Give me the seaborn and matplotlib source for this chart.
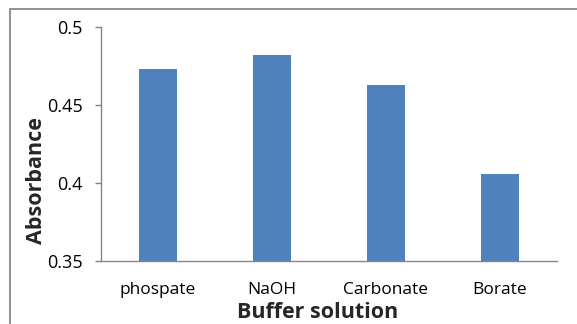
import matplotlib
matplotlib.use("Agg")
import matplotlib.pyplot as plt
import matplotlib.patches as mpatches
import seaborn as sns
import pandas as pd

buffers = ["phospate", "NaOH", "Carbonate", "Borate"]
absorbance = [0.473, 0.482, 0.463, 0.406]
y_ticks = [0.35, 0.4, 0.45, 0.5]
y_tick_labels = ["0.35", "0.4", "0.45", "0.5"]

sns.set_style("white")
plt.rcParams["font.family"] = ["Open Sans", "DejaVu Sans"]

W, H = 577, 324
fig = plt.figure(figsize=(W / 100, H / 100), dpi=100)
fig.patch.set_facecolor("white")

# axes placed in pixel terms
left, right, top, bottom = 101, 557, 27, 261
ax = fig.add_axes([left / W, 1 - bottom / H, (right - left) / W, (bottom - top) / H])

df = pd.DataFrame({"Buffer": buffers, "Absorbance": absorbance})
sns.barplot(data=df, x="Buffer", y="Absorbance", color="#4F81BD",
            saturation=1, width=0.333, ax=ax, edgecolor="none")

ax.set_ylim(0.35, 0.5)
ax.set_xlim(-0.5, 3.5)
ax.set_yticks(y_ticks)
ax.set_yticklabels(y_tick_labels)
ax.set_xlabel("")
ax.set_ylabel("")

for s in ["top", "right"]:
    ax.spines[s].set_visible(False)
for s in ["left", "bottom"]:
    ax.spines[s].set_color("#868686")
    ax.spines[s].set_linewidth(1.0)

ax.tick_params(axis="y", direction="out", length=4, width=1.0, color="#868686",
               labelsize=13, pad=9, left=True)
ax.tick_params(axis="x", length=0, labelsize=12.5, pad=15)
for t in ax.get_xticklabels() + ax.get_yticklabels():
    t.set_color("black")

fig.text(36 / W, 1 - 180.5 / H, "Absorbance", rotation=90, ha="center", va="center",
         fontsize=15.5, fontweight="bold")
fig.text(318 / W, 1 - 318 / H, "Buffer solution", ha="center", va="baseline",
         fontsize=15.5, fontweight="bold")

# chart-area border running off the right and bottom edges
frame = mpatches.Rectangle((10 / W, -0.1), 1.2, 1 - 9 / H + 0.1,
                           transform=fig.transFigure, fill=False,
                           edgecolor="#898989", linewidth=1.3)
fig.patches.append(frame)

fig.savefig("out.png", dpi=100)
